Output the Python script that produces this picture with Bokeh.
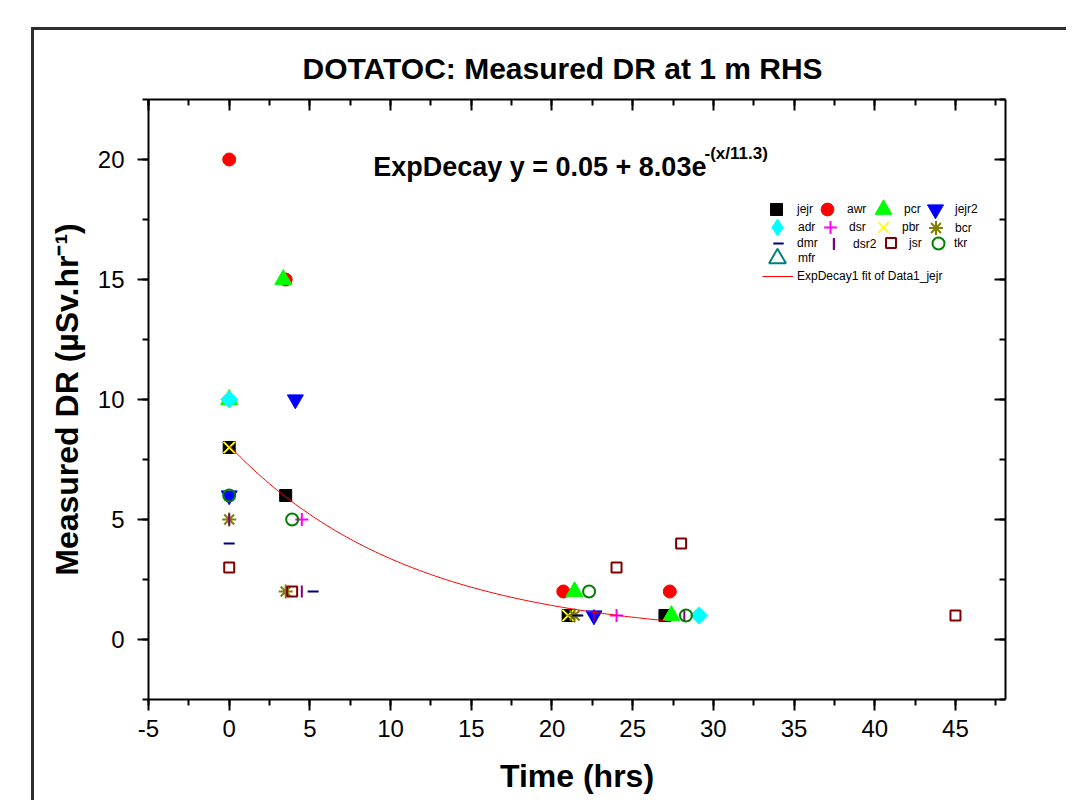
import numpy as np
from bokeh.plotting import figure
from bokeh.models import (Range1d, LinearAxis, SingleIntervalTicker, Legend, LegendItem,
                          Label, CustomJSTickFormatter)
from bokeh.embed import file_html
from bokeh.resources import INLINE

# ---- data ----
series_names = ["jejr", "awr", "pcr", "jejr2", "adr", "dsr", "pbr", "bcr",
                "dmr", "dsr2", "jsr", "tkr", "mfr"]
jejr_x = [0, 3.5, 21.0, 27.0];          jejr_y = [8, 6, 1, 1]
awr_x = [0, 3.5, 20.7, 27.3];           awr_y = [20, 15, 2, 2]
pcr_x = [0, 3.35, 21.4, 27.4];          pcr_y = [10, 15, 2, 1]
jejr2_x = [0, 4.1, 22.6];               jejr2_y = [6, 10, 1]
adr_x = [0, 29.1];                      adr_y = [10, 1]
dsr_x = [4.5, 24.0];                    dsr_y = [5, 1]
pbr_x = [0, 21.0];                      pbr_y = [8, 1]
bcr_x = [0, 3.5, 21.4];                 bcr_y = [5, 2, 1]
dmr_x = [0, 5.2, 21.6];                 dmr_y = [4, 2, 1]
dsr2_x = [0, 4.5, 22.6, 28.2];          dsr2_y = [5, 2, 1, 1]
jsr_x = [0, 3.9, 24.0, 28.0, 45.0];     jsr_y = [3, 2, 3, 4, 1]
tkr_x = [0, 3.9, 22.3, 28.3];           tkr_y = [6, 5, 2, 1]
mfr_x = [];                             mfr_y = []

# ExpDecay fit parameters (as printed on the chart)
fit_y0, fit_A, fit_t = 0.05, 8.03, 11.3
fit_x_end = 27.0
fit_label = "ExpDecay1 fit of Data1_jejr"

title_text = "DOTATOC: Measured DR at 1 m RHS"
x_ticks_interval = 5
y_ticks_interval = 5

FONT = "Liberation Sans"

p = figure(frame_width=857, frame_height=600,
           min_border_left=114, min_border_right=61,
           min_border_top=69, min_border_bottom=101,
           x_range=Range1d(-5, 48.1), y_range=Range1d(-2.5, 22.5),
           output_backend="svg", toolbar_location=None, title=title_text)
p.margin = (27, 0, 0, 31)
p.styles = {"border-top": "3px solid #2e2e2e", "border-left": "3px solid #2e2e2e"}
p.background_fill_color = "white"
p.border_fill_color = "white"
p.outline_line_color = None
p.grid.visible = False

p.title.align = "left"
p.title.offset = 154
p.title.text_font = FONT
p.title.text_font_size = "30px"
p.title.text_font_style = "bold"
p.title.text_color = "black"
p.title.standoff = 30

def style_main(ax, interval):
    ax.ticker = SingleIntervalTicker(interval=interval, num_minor_ticks=2)
    ax.axis_line_width = 2
    ax.axis_line_color = "black"
    ax.major_tick_line_width = 2
    ax.minor_tick_line_width = 2
    ax.major_tick_out = 11
    ax.major_tick_in = 0
    ax.minor_tick_out = 6
    ax.minor_tick_in = 0
    ax.major_label_text_font = FONT
    ax.major_label_text_font_size = "24px"
    ax.major_label_text_color = "black"
    ax.axis_label_text_font = FONT
    ax.axis_label_text_font_size = "32px"
    ax.axis_label_text_font_style = "bold"
    ax.axis_label_text_color = "black"

style_main(p.xaxis[0], x_ticks_interval)
style_main(p.yaxis[0], y_ticks_interval)
p.xaxis[0].axis_label = "Time (hrs)"
p.yaxis[0].axis_label = "Measured DR (µSv.hr⁻¹)"
p.xaxis[0].major_label_overrides = {-5: "-5"}
p.xaxis[0].major_label_standoff = 9
p.yaxis[0].major_label_standoff = 13
p.xaxis[0].axis_label_standoff = 18
p.yaxis[0].axis_label_standoff = 10

def side_axis(interval):
    ax = LinearAxis(ticker=SingleIntervalTicker(interval=interval, num_minor_ticks=2),
                    formatter=CustomJSTickFormatter(code="return ''"))
    ax.axis_line_width = 2
    ax.major_tick_line_width = 2
    ax.minor_tick_line_width = 2
    ax.major_tick_out = 0
    ax.major_tick_in = 11
    ax.minor_tick_out = 0
    ax.minor_tick_in = 6
    ax.major_label_standoff = 0
    return ax

p.add_layout(side_axis(x_ticks_interval), "above")
p.add_layout(side_axis(y_ticks_interval), "right")

# ---- series ----
specs = [
    ("jejr", jejr_x, jejr_y, dict(marker="square", size=12, color="black")),
    ("awr", awr_x, awr_y, dict(marker="circle", size=13, color="#ff0000")),
    ("pcr", pcr_x, pcr_y, dict(marker="triangle", size=17, color="#00ff00")),
    ("jejr2", jejr2_x, jejr2_y, dict(marker="inverted_triangle", size=16, color="#0000ff")),
    ("adr", adr_x, adr_y, dict(marker="square", size=12, angle=np.pi / 4, color="#00ffff")),
    ("dsr", dsr_x, dsr_y, dict(marker="cross", size=13, line_width=2, color="#ff00ff")),
    ("pbr", pbr_x, pbr_y, dict(marker="x", size=16, line_width=2, color="#ffff00")),
    ("bcr", bcr_x, bcr_y, dict(marker="asterisk", size=14, line_width=2, color="#808000")),
    ("dmr", dmr_x, dmr_y, dict(marker="dash", size=11, line_width=2, color="#000080")),
    ("dsr2", dsr2_x, dsr2_y, dict(marker="dash", size=12, angle=np.pi / 2, line_width=2, color="#800080")),
    ("jsr", jsr_x, jsr_y, dict(marker="square", size=10, line_width=2, line_color="#800000", fill_color=None)),
    ("tkr", tkr_x, tkr_y, dict(marker="circle", size=12, line_width=2, line_color="#008000", fill_color=None)),
    ("mfr", mfr_x, mfr_y, dict(marker="triangle", size=16, line_width=2, line_color="#008080", fill_color=None)),
]
rends = {}
for name, xs, ys, kw in specs:
    rends[name] = p.scatter(x=xs, y=ys, **kw)

fx = np.linspace(0, fit_x_end, 120)
fy = fit_y0 + fit_A * np.exp(-fx / fit_t)
fit_r = p.line(fx, fy, line_color="#ff0000", line_width=1)

# hidden legend-only proxies (legend needs non-empty data to draw a key)
adr_key = p.scatter(x=adr_x, y=adr_y, marker="diamond", color="#00ffff", visible=False)
dsr2_key = p.vbar(x=dsr2_x, top=dsr2_y, width=0.1, fill_color="#800080",
                  line_color=None, visible=False)
mfr_key = p.scatter(x=[0], y=[0], marker="triangle", line_width=2,
                    line_color="#008080", fill_color=None, visible=False)

# ---- equation text ----
p.add_layout(Label(x=8.92, y=19.7, text="ExpDecay y = 0.05 + 8.03e",
                   text_font=FONT, text_font_size="27px", text_font_style="bold",
                   text_baseline="alphabetic", text_color="black"))
p.add_layout(Label(x=29.45, y=20.27, text="-(x/11.3)",
                   text_font=FONT, text_font_size="17px", text_font_style="bold",
                   text_baseline="alphabetic", text_color="black"))

# ---- legend: one key per item, placed on Origin's legend grid ----
FL, FB = 148, 699   # frame left / bottom, page px
LH = 14

def key(label, rend, cx, cy, gw, gh, tx):
    h = max(gh, LH)
    loc = (round(cx - gw / 2 - FL), round(FB - (cy + h / 2)))
    leg = Legend(items=[LegendItem(label=label, renderers=[rend])], location=loc,
                 orientation="vertical", glyph_width=gw, glyph_height=gh,
                 label_standoff=max(0, round(tx - (cx + gw / 2))), label_height=LH,
                 label_text_font=FONT, label_text_font_size="12px",
                 label_text_color="black", spacing=0,
                 padding=0, margin=0, border_line_color=None,
                 background_fill_alpha=0, inactive_fill_alpha=0)
    p.add_layout(leg)

key("jejr", rends["jejr"], 776, 209, 30, 30, 797)
key("awr", rends["awr"], 827, 209, 32, 32, 847)
key("pcr", rends["pcr"], 883, 209, 42, 42, 902)
key("jejr2", rends["jejr2"], 935, 209, 40, 40, 954)
key("adr", adr_key, 777, 227, 42, 42, 797)
key("dsr", rends["dsr"], 830, 227, 32, 32, 849)
key("pbr", rends["pbr"], 883, 227, 36, 36, 902)
key("bcr", rends["bcr"], 935, 227, 35, 35, 954)
key("dmr", rends["dmr"], 778, 243, 26, 26, 797)
key("dsr2", dsr2_key, 833, 243, 3, 15, 852)
key("jsr", rends["jsr"], 891, 243, 25, 25, 910)
key("tkr", rends["tkr"], 938, 243, 30, 30, 954)
key("mfr", mfr_key, 777, 258, 42, 42, 797)
key(fit_label, fit_r, 777, 276, 31, 16, 797)

open("out.html", "w").write(file_html(p, INLINE))
